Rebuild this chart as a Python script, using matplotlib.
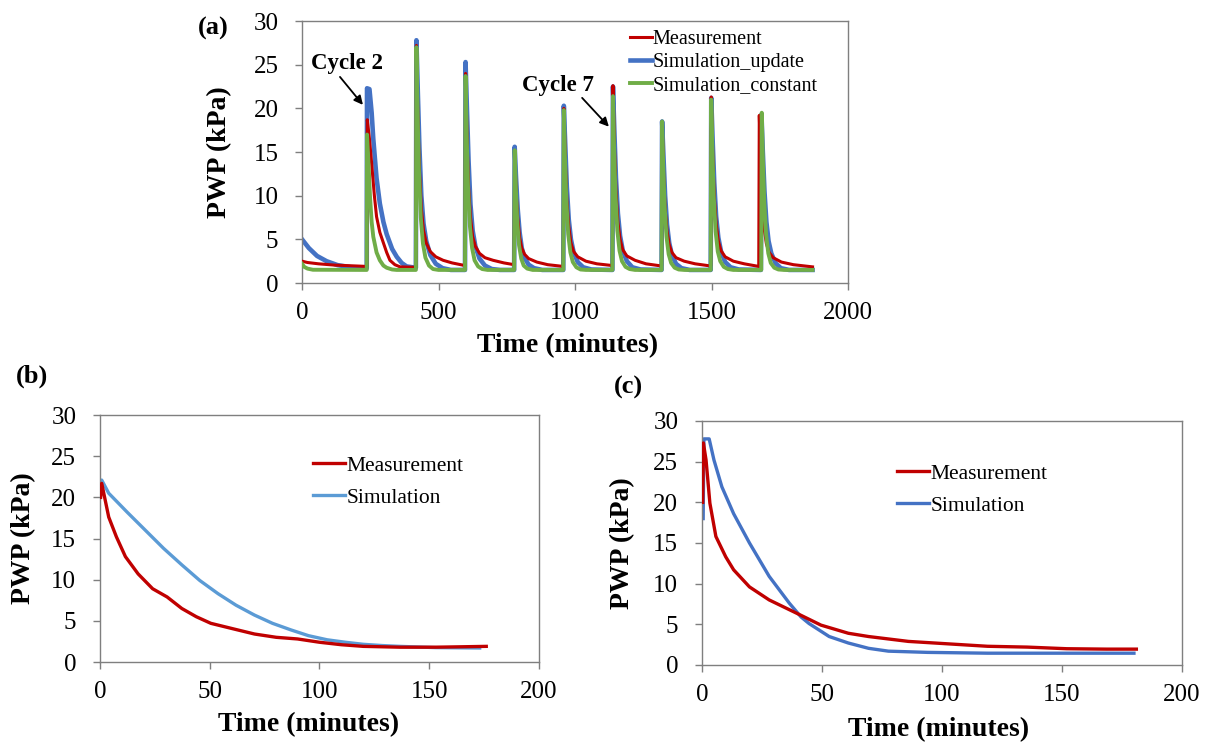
import matplotlib
matplotlib.use("Agg")
import matplotlib.pyplot as plt

plt.rcParams['font.family'] = ['Liberation Serif', 'DejaVu Serif']

# ---------------- data ----------------
# (a) full test, time in minutes, PWP in kPa
a_meas_t = [0, 20, 60, 120, 200, 237,
            239, 247, 255, 265, 273, 285, 298, 310, 322, 340, 359, 417,
            419, 425, 430, 437, 445, 455, 470, 490, 517, 550, 597,
            599, 605, 610, 617, 625, 635, 650, 670, 700, 740, 777,
            779, 784, 790, 797, 805, 815, 830, 860, 900, 957,
            959, 965, 970, 977, 985, 995, 1010, 1040, 1080, 1137,
            1139, 1145, 1150, 1157, 1165, 1175, 1190, 1220, 1260, 1317,
            1319, 1325, 1330, 1337, 1345, 1355, 1370, 1400, 1440, 1497,
            1499, 1505, 1510, 1517, 1525, 1535, 1550, 1580, 1620, 1673,
            1675, 1681, 1686, 1693, 1701, 1711, 1726, 1756, 1800, 1870]
a_meas_p = [2.5, 2.35, 2.2, 2.05, 1.95, 1.9,
            18.7, 16.5, 13.7, 10.0, 7.6, 5.8, 4.6, 3.5, 2.6, 2.1, 1.85, 1.8,
            27.2, 18.0, 13.0, 8.5, 6.0, 4.6, 3.6, 3.0, 2.6, 2.3, 2.0,
            24.0, 16.0, 11.0, 7.5, 5.3, 4.2, 3.4, 2.9, 2.6, 2.3, 2.1,
            15.0, 10.5, 7.5, 5.2, 4.0, 3.3, 2.8, 2.4, 2.1, 1.9,
            20.0, 13.5, 9.5, 6.5, 4.6, 3.6, 3.0, 2.5, 2.2, 2.0,
            22.6, 15.0, 10.5, 7.0, 5.0, 3.8, 3.1, 2.6, 2.2, 1.95,
            18.3, 12.0, 8.5, 6.0, 4.4, 3.5, 2.9, 2.5, 2.2, 1.95,
            21.3, 14.0, 10.0, 6.8, 4.8, 3.7, 3.0, 2.5, 2.2, 1.9,
            19.2, 13.0, 9.0, 6.2, 4.5, 3.5, 2.9, 2.4, 2.1, 1.85]

a_upd_t = [0, 25, 55, 90, 130, 180, 237,
           238, 247, 255, 261, 273, 285, 298, 310, 330, 347, 365, 383, 417,
           419, 424, 430, 437, 445, 455, 470, 490, 515, 545, 597,
           599, 604, 610, 617, 625, 635, 650, 670, 695, 725, 777,
           779, 784, 790, 797, 805, 815, 830, 850, 880, 957,
           959, 964, 970, 977, 985, 995, 1010, 1030, 1060, 1137,
           1139, 1144, 1150, 1157, 1165, 1175, 1190, 1210, 1240, 1317,
           1319, 1324, 1330, 1337, 1345, 1355, 1370, 1390, 1420, 1497,
           1499, 1504, 1510, 1517, 1525, 1535, 1550, 1570, 1600, 1681,
           1683, 1688, 1694, 1701, 1709, 1719, 1734, 1754, 1784, 1870]
a_upd_p = [5.0, 4.0, 3.1, 2.5, 2.05, 1.8, 1.7,
           22.3, 22.2, 19.5, 16.5, 12.0, 9.1, 7.0, 5.6, 3.9, 3.0, 2.3, 1.9, 1.75,
           27.8, 22.0, 15.5, 10.0, 6.8, 4.8, 3.2, 2.2, 1.7, 1.5, 1.5,
           25.3, 20.0, 14.0, 9.0, 6.0, 4.2, 2.8, 2.0, 1.6, 1.5, 1.5,
           15.6, 12.0, 8.5, 5.8, 4.0, 2.9, 2.1, 1.7, 1.5, 1.5,
           20.3, 16.0, 11.0, 7.3, 5.0, 3.5, 2.4, 1.8, 1.55, 1.5,
           22.5, 17.5, 12.0, 8.0, 5.4, 3.7, 2.5, 1.8, 1.55, 1.5,
           18.5, 14.5, 10.0, 6.7, 4.6, 3.2, 2.2, 1.7, 1.5, 1.5,
           21.2, 16.5, 11.5, 7.6, 5.2, 3.6, 2.4, 1.8, 1.55, 1.5,
           19.3, 15.0, 10.5, 7.0, 4.8, 3.4, 2.3, 1.7, 1.5, 1.5]

a_const_t = [0, 8, 20, 40, 237,
             238, 243, 249, 255, 261, 273, 285, 298, 310, 330, 347, 417,
             419, 423, 428, 435, 443, 452, 465, 480, 500, 597,
             599, 603, 608, 615, 623, 632, 645, 660, 680, 777,
             779, 783, 788, 795, 803, 812, 825, 845, 957,
             959, 963, 968, 975, 983, 992, 1005, 1020, 1040, 1137,
             1139, 1143, 1148, 1155, 1163, 1172, 1185, 1200, 1220, 1317,
             1319, 1323, 1328, 1335, 1343, 1352, 1365, 1380, 1400, 1497,
             1499, 1503, 1508, 1515, 1523, 1532, 1545, 1560, 1580, 1682,
             1684, 1688, 1693, 1700, 1708, 1717, 1730, 1745, 1765, 1870]
a_const_p = [2.2, 1.85, 1.65, 1.52, 1.5,
             17.0, 14.0, 9.9, 7.0, 5.3, 3.5, 2.6, 2.0, 1.75, 1.55, 1.5, 1.5,
             27.0, 20.0, 13.0, 7.5, 4.5, 2.9, 2.0, 1.6, 1.5, 1.5,
             23.7, 17.0, 11.0, 6.5, 4.0, 2.6, 1.9, 1.6, 1.5, 1.5,
             15.2, 11.0, 7.2, 4.3, 2.8, 2.0, 1.65, 1.5, 1.5,
             19.8, 14.5, 9.5, 5.6, 3.5, 2.4, 1.8, 1.55, 1.5, 1.5,
             21.4, 15.5, 10.2, 6.0, 3.7, 2.5, 1.85, 1.6, 1.5, 1.5,
             18.5, 13.5, 8.9, 5.3, 3.3, 2.3, 1.75, 1.55, 1.5, 1.5,
             21.0, 15.3, 10.0, 5.9, 3.6, 2.5, 1.85, 1.6, 1.5, 1.5,
             19.5, 14.2, 9.3, 5.5, 3.4, 2.3, 1.75, 1.55, 1.5, 1.5]

# annotations on (a): label, text position, arrow tail, arrow tip
cycle_labels = ['Cycle 2', 'Cycle 7']
cycle_text_xy = [(165, 25.1), (938, 22.6)]
cycle_arrow_tail = [(139, 23.6), (1026, 21.2)]
cycle_arrow_tip = [(223, 20.4), (1124, 17.9)]

# (b) cycle 2
b_meas_t = [0.3, 0.8, 4, 7.5, 11.6, 17.4, 24, 30.6, 37.3, 43.9, 50.5, 60.4,
            70.4, 80.3, 90, 100, 110, 120, 136.6, 153, 165, 176]
b_meas_p = [20.0, 21.7, 17.6, 15.2, 12.8, 10.7, 8.9, 7.9, 6.5, 5.5, 4.7, 4.05,
            3.4, 3.0, 2.8, 2.4, 2.1, 1.9, 1.8, 1.8, 1.85, 1.9]
b_sim_t = [0.3, 0.8, 4, 12.4, 20.7, 29, 37.3, 45.5, 53.8, 62, 70.4, 78.6,
           87, 95, 103.5, 111.8, 120, 128.5, 136.6, 153, 173]
b_sim_p = [21.0, 22.1, 20.5, 18.2, 16.0, 13.8, 11.8, 9.9, 8.3, 6.9, 5.7, 4.7,
           3.9, 3.2, 2.7, 2.4, 2.15, 2.0, 1.9, 1.75, 1.7]

# (c) cycle 7
c_meas_t = [0.3, 0.6, 1.7, 3.3, 5.8, 9.9, 13.2, 19.8, 28, 36.4, 42, 49.6,
            61, 69.4, 86, 102.5, 119, 135.5, 152, 168.6, 181]
c_meas_p = [20.0, 27.3, 25.2, 19.9, 15.8, 13.3, 11.7, 9.6, 8.0, 6.8, 6.0, 4.9,
            3.9, 3.5, 2.9, 2.6, 2.3, 2.2, 2.0, 1.95, 1.95]
c_sim_t = [0.5, 0.8, 3, 5, 8.3, 13.2, 19.8, 28, 36.4, 41.3, 44.6, 53,
           61, 69.4, 77.7, 94, 119, 150, 180]
c_sim_p = [18.0, 27.8, 27.8, 25.2, 21.9, 18.6, 15.0, 10.9, 7.6, 5.9, 5.1, 3.5,
           2.7, 2.05, 1.7, 1.55, 1.45, 1.45, 1.45]

red = '#C00000'
blue = '#4472C4'
green = '#70AD47'
light_blue = '#5B9BD5'
spine_col = '#7F7F7F'


def style_axes(ax, xmax, xstep, xlab_x, xlab_pad):
    ax.set_xlim(0, xmax)
    ax.set_ylim(0, 30)
    ax.set_xticks(range(0, xmax + 1, xstep))
    ax.set_yticks(range(0, 31, 5))
    for s in ax.spines.values():
        s.set_color(spine_col)
        s.set_linewidth(1.0)
    ax.tick_params(axis='both', direction='out', length=5, width=1.0,
                   color=spine_col, labelsize=18)
    ax.tick_params(axis='x', pad=9)
    ax.tick_params(axis='y', pad=12)
    ax.tick_params(top=False, right=False)
    ax.set_xlabel('Time (minutes)', fontsize=20, fontweight='bold',
                  labelpad=xlab_pad, x=xlab_x)
    ax.set_ylabel('PWP (kPa)', fontsize=20, fontweight='bold')


fig = plt.figure(figsize=(12.13, 7.45), dpi=100)

# ---- panel (a)
ax_a = fig.add_axes([0.249, 0.6201, 0.4501, 0.3517])
ax_a.plot(a_meas_t, a_meas_p, color=red, lw=2.2, label='Measurement', zorder=3)
ax_a.plot(a_upd_t, a_upd_p, color=blue, lw=3.3, label='Simulation_update', zorder=2)
ax_a.plot(a_const_t, a_const_p, color=green, lw=2.8, label='Simulation_constant', zorder=4)
style_axes(ax_a, 2000, 500, 0.487, 6.3)
ax_a.yaxis.set_label_coords(-0.128, 0.5)
ax_a.legend(loc='upper left', bbox_to_anchor=(0.6, 0.965), frameon=False,
            fontsize=14.5, handlelength=1.1, handletextpad=0.05,
            labelspacing=0.2, borderpad=0, borderaxespad=0)
for lab, txy, tail, tip in zip(cycle_labels, cycle_text_xy, cycle_arrow_tail, cycle_arrow_tip):
    ax_a.text(txy[0], txy[1], lab, fontsize=16.5, fontweight='bold',
              ha='center', va='center')
    ax_a.annotate('', xy=tip, xytext=tail,
                  arrowprops=dict(arrowstyle='-|>', color='black', lw=1.3,
                                  mutation_scale=13, shrinkA=0, shrinkB=0))

# ---- panel (b)
ax_b = fig.add_axes([0.0824, 0.1114, 0.3619, 0.3315])
ax_b.plot(b_meas_t, b_meas_p, color=red, lw=2.4, label='Measurement', zorder=3)
ax_b.plot(b_sim_t, b_sim_p, color=light_blue, lw=2.4, label='Simulation', zorder=2)
style_axes(ax_b, 200, 50, 0.476, 6.3)
ax_b.yaxis.set_label_coords(-0.145, 0.5)
ax_b.legend(loc='upper left', bbox_to_anchor=(0.485, 0.835), frameon=False,
            fontsize=15.5, handlelength=1.5, handletextpad=0.05,
            labelspacing=0.55, borderpad=0, borderaxespad=0)

# ---- panel (c)
ax_c = fig.add_axes([0.5787, 0.1074, 0.3957, 0.3275])
ax_c.plot(c_meas_t, c_meas_p, color=red, lw=2.4, label='Measurement', zorder=3)
ax_c.plot(c_sim_t, c_sim_p, color=blue, lw=2.4, label='Simulation', zorder=2)
style_axes(ax_c, 200, 50, 0.492, 7.8)
ax_c.yaxis.set_label_coords(-0.14, 0.5)
ax_c.legend(loc='upper left', bbox_to_anchor=(0.406, 0.825), frameon=False,
            fontsize=15.5, handlelength=1.5, handletextpad=0.05,
            labelspacing=0.55, borderpad=0, borderaxespad=0)

# panel letters
fig.text(0.1756, 0.9624, '(a)', fontsize=19, fontweight='bold', ha='center', va='center')
fig.text(0.0264, 0.4953, '(b)', fontsize=19, fontweight='bold', ha='center', va='center')
fig.text(0.5177, 0.4805, '(c)', fontsize=19, fontweight='bold', ha='center', va='center')

fig.savefig('out.png', dpi=100)
